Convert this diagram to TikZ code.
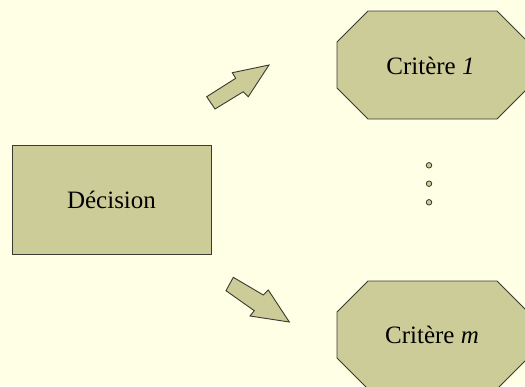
\documentclass[tikz,border=0pt]{standalone}
\usepackage{fontspec}
\setmainfont{Liberation Serif}
\definecolor{bg}{HTML}{FFFFE5}
\definecolor{shapefill}{HTML}{CCCC99}
\definecolor{edge}{HTML}{3A3A30}
\begin{document}
\begin{tikzpicture}[x=1pt,y=-1pt,
  shapestyle/.style={fill=shapefill,draw=edge,line width=0.9pt,line join=miter},
  labeltext/.style={font=\fontsize{25}{30}\selectfont,text=black,inner sep=0pt},
  dotstyle/.style={circle,fill=shapefill,draw=edge,line width=0.8pt,minimum size=5.5pt,inner sep=0pt}]
\useasboundingbox (0,0) rectangle (525,386);
\fill[bg] (0,0) rectangle (525,386);
\clip (0,0) rectangle (525,386);
% Decision box
\draw[shapestyle] (12,145) rectangle (211,254);
\node[labeltext] (dec) at (111.5,200) {Décision};
% Critere 1 octagon
\draw[shapestyle] (368,11) -- (497,11) -- (528,42) -- (528,88) -- (497,119) -- (368,119) -- (337,88) -- (337,42) -- cycle;
\node[labeltext] (c1) at (430.5,66) {Critère \textit{1}};
% Critere m octagon
\draw[shapestyle] (368,281) -- (497,281) -- (528,312) -- (528,358) -- (497,389) -- (368,389) -- (337,358) -- (337,312) -- cycle;
\node[labeltext] (cm) at (432,335) {Critère \textit{m}};
% block arrows
\draw[shapestyle] (215,109) -- (206.7,96.7) -- (235.7,78.3) -- (232.3,72.7) -- (269,65) -- (248.3,96.7) -- (243.3,91.7) -- cycle;
\draw[shapestyle] (233.3,277.3) -- (226,290.7) -- (254.3,310.7) -- (250,316) -- (289.3,322) -- (268.3,290) -- (263.3,295) -- cycle;
% dots
\node[dotstyle] (d1) at (429,165.3) {};
\node[dotstyle] (d2) at (429,183.7) {};
\node[dotstyle] (d3) at (429,202.3) {};
\end{tikzpicture}
\end{document}
